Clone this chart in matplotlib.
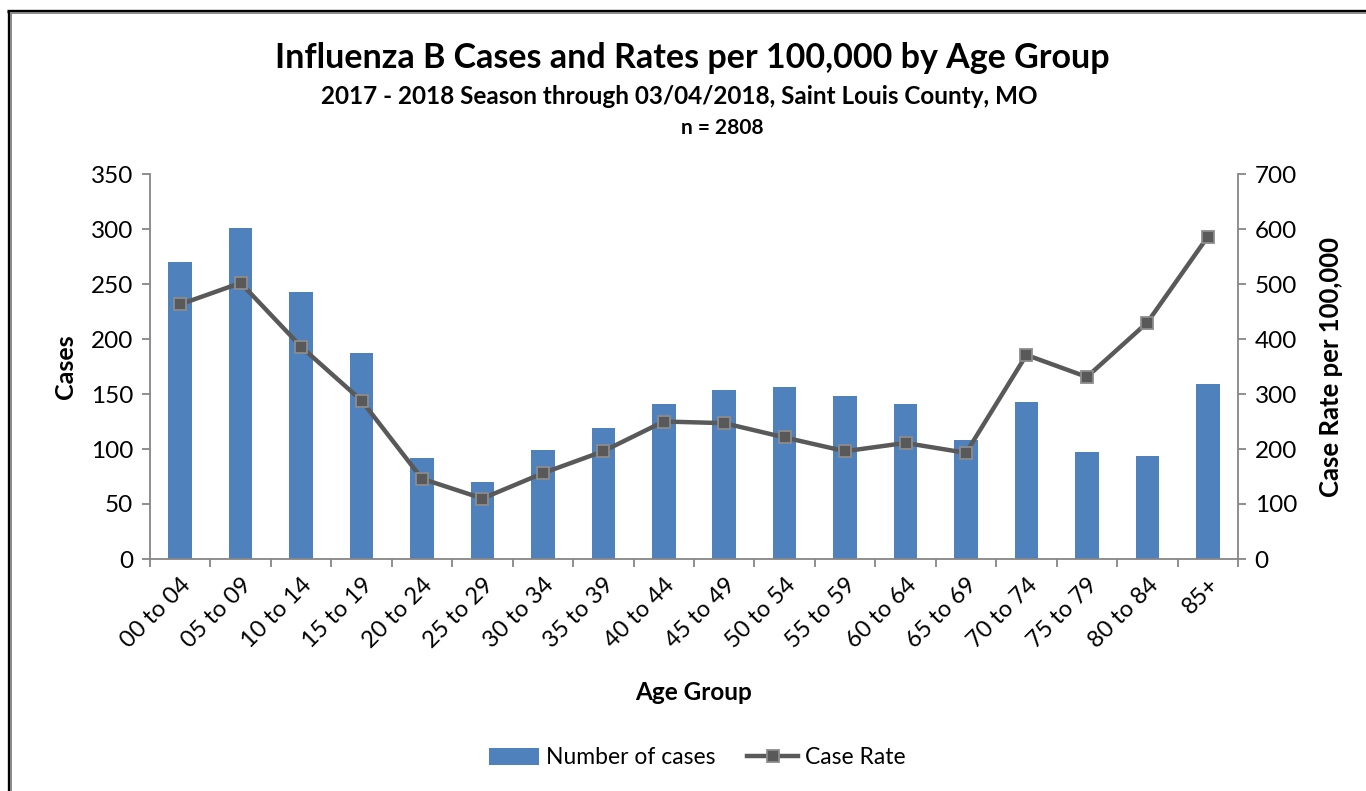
import matplotlib
matplotlib.use("Agg")
import matplotlib.pyplot as plt
from matplotlib.lines import Line2D
import numpy as np

plt.rcParams['font.family'] = ['Lato', 'DejaVu Sans']

age_groups = ["00 to 04", "05 to 09", "10 to 14", "15 to 19", "20 to 24", "25 to 29",
              "30 to 34", "35 to 39", "40 to 44", "45 to 49", "50 to 54", "55 to 59",
              "60 to 64", "65 to 69", "70 to 74", "75 to 79", "80 to 84", "85+"]
cases = [270, 301, 243, 187, 92, 70, 99, 119, 141, 154, 156, 148, 141, 108, 143, 97, 94, 159]
case_rate = [463, 502, 386, 288, 146, 110, 156, 196, 250, 247, 221, 196, 211, 193, 371, 331, 430, 586]

left_ticks = [0, 50, 100, 150, 200, 250, 300, 350]
right_ticks = [0, 100, 200, 300, 400, 500, 600, 700]

W, H = 1366, 791
fig = plt.figure(figsize=(W / 100, H / 100), dpi=100)
ax = fig.add_axes([150 / W, 1 - 559 / H, (1238 - 150) / W, (559 - 174) / H])
ax2 = ax.twinx()

x = np.arange(len(age_groups))
bar_color = "#4F81BD"
line_color = "#595959"
spine_color = "#868686"

bars = ax.bar(x, cases, width=0.39, color=bar_color, zorder=2, label="Number of cases")
ln, = ax2.plot(x, case_rate, color=line_color, lw=3.2, marker="s", markersize=8.5,
               markerfacecolor="#595959", markeredgecolor="#8C8C8C", markeredgewidth=1.3,
               zorder=3, label="Case Rate")

ax.set_xlim(-0.5, len(age_groups) - 0.5)
ax.set_ylim(0, 350)
ax2.set_ylim(0, 700)
ax.set_yticks(left_ticks)
ax2.set_yticks(right_ticks)

ax.set_xticks(x)
ax.set_xticklabels(age_groups, rotation=45, ha="right", rotation_mode="anchor", fontsize=17)
ax.tick_params(axis="x", which="major", length=0, pad=11)
ax.set_xticks(np.arange(-0.5, len(age_groups), 1.0), minor=True)
ax.tick_params(axis="x", which="minor", length=6, color=spine_color, width=1.3, direction="out")

ax.tick_params(axis="y", length=6, color=spine_color, width=1.3, labelsize=17.5, pad=6)
ax2.tick_params(axis="y", length=6, color=spine_color, width=1.3, labelsize=17.5, pad=6)

for a in (ax, ax2):
    a.spines["top"].set_visible(False)
    for s in ("left", "right", "bottom"):
        a.spines[s].set_color(spine_color)
        a.spines[s].set_linewidth(1.3)
ax.spines["right"].set_visible(False)
ax2.spines["left"].set_visible(False)
ax2.spines["bottom"].set_visible(False)

ax.set_ylabel("Cases", fontsize=18, fontweight="bold", labelpad=10)
ax2.set_ylabel("Case Rate per 100,000", fontsize=18.5, fontweight="bold", labelpad=16)
ax.set_xlabel("Age Group", fontsize=17.5, fontweight="bold", labelpad=21)

fig.text(692 / W, 1 - 58 / H, "Influenza B Cases and Rates per 100,000 by Age Group",
         ha="center", va="center", fontsize=24.5, fontweight="bold")
fig.text(679 / W, 1 - 96 / H, "2017 - 2018 Season through 03/04/2018, Saint Louis County, MO",
         ha="center", va="center", fontsize=17.5, fontweight="bold")
fig.text(722 / W, 1 - 128 / H, "n = 2808",
         ha="center", va="center", fontsize=15, fontweight="bold")

leg = fig.legend([bars, ln], ["Number of cases", "Case Rate"], loc="center",
                 bbox_to_anchor=(697 / W, 1 - 758 / H), ncol=2, frameon=False,
                 fontsize=16.5, handlelength=2.2, handleheight=0.7, columnspacing=1.4,
                 handletextpad=0.3)

# frame lines (top and left)
fig.add_artist(Line2D([8.5 / W, 8.5 / W], [0, 1 - 10 / H], color="black", lw=2.4,
                      transform=fig.transFigure, solid_capstyle="butt"))
fig.add_artist(Line2D([7 / W, 1], [1 - 10.5 / H, 1 - 10.5 / H], color="black", lw=2.4,
                      transform=fig.transFigure, solid_capstyle="butt"))
fig.add_artist(Line2D([11 / W, 11 / W], [0, 1 - 12 / H], color="#8C8C8C", lw=1.4,
                      transform=fig.transFigure, solid_capstyle="butt"))
fig.add_artist(Line2D([10 / W, 1], [1 - 13 / H, 1 - 13 / H], color="#8C8C8C", lw=1.4,
                      transform=fig.transFigure, solid_capstyle="butt"))

fig.savefig("out.png", dpi=100)
